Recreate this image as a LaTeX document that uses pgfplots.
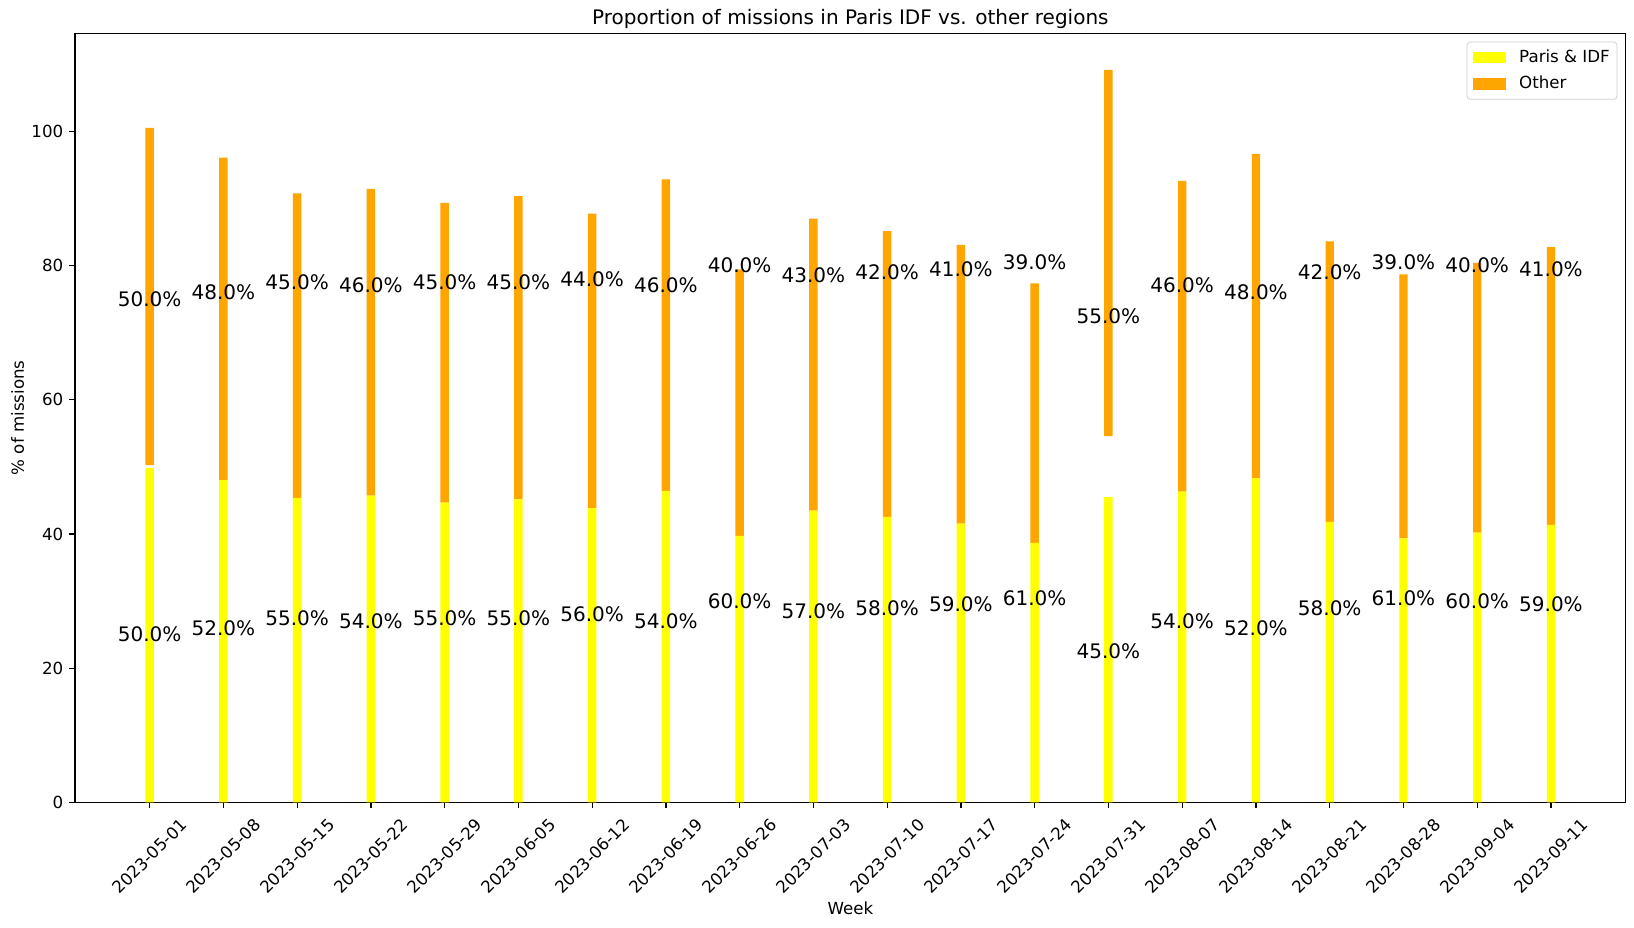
\documentclass[border=0pt]{standalone}
\usepackage{fontspec}
\setmainfont{DejaVu Sans}
\usepackage{pgfplots}
\usepackage{pgfplotstable}
\pgfplotsset{compat=1.18}
\definecolor{pyellow}{HTML}{FFFF00}
\definecolor{porange}{HTML}{FFA500}
\definecolor{legendgray}{HTML}{CCCCCC}

\pgfplotstableread{
x p gap b lo loy up upy
0 49.86 0.38 50.24 50 25.0 50 75.0
1 48.03 0 48.03 52 26.0 48 76.0
2 45.37 0 45.37 55 27.5 45 77.5
3 45.70 0 45.70 54 27.0 46 77.0
4 44.66 0 44.66 55 27.5 45 77.5
5 45.17 0 45.17 55 27.5 45 77.5
6 43.86 0 43.86 56 28.0 44 78.0
7 46.42 0 46.42 54 27.0 46 77.0
8 39.70 0 39.70 60 30.0 40 80.0
9 43.49 0 43.49 57 28.5 43 78.5
10 42.55 0 42.55 58 29.0 42 79.0
11 41.53 0 41.53 59 29.5 41 79.5
12 38.66 0 38.66 61 30.5 39 80.5
13 45.49 9.07 54.56 45 22.5 55 72.5
14 46.30 0 46.30 54 27.0 46 77.0
15 48.32 0 48.32 52 26.0 48 76.0
16 41.80 0 41.80 58 29.0 42 79.0
17 39.34 0 39.34 61 30.5 39 80.5
18 40.20 0 40.20 60 30.0 40 80.0
19 41.36 0 41.36 59 29.5 41 79.5
}\datatable

\begin{document}
\begin{tikzpicture}
\pgfplotsset{common/.style={width=930.4pt, height=461.5pt, scale only axis,
  xmin=-1.013, xmax=20.013, ymin=0, ymax=114.58}}
\begin{axis}[common, ybar stacked, bar width=0.1143,
  axis line style={line width=0.8pt},
  tick align=outside, major tick length=3.5pt,
  tick style={line width=0.8pt, black},
  xtick pos=bottom, ytick pos=left,
  xtick={0,...,19},
  xticklabels={2023-05-01,2023-05-08,2023-05-15,2023-05-22,2023-05-29,2023-06-05,2023-06-12,2023-06-19,2023-06-26,2023-07-03,2023-07-10,2023-07-17,2023-07-24,2023-07-31,2023-08-07,2023-08-14,2023-08-21,2023-08-28,2023-09-04,2023-09-11},
  ytick={0,20,40,60,80,100},
  xticklabel style={font=\fontsize{10}{12}\selectfont, yshift=-28.6pt, rotate=45, anchor=center},
  yticklabel style={font=\fontsize{10}{12}\selectfont},
  /pgf/number format/assume math mode=true,
  every axis x label/.style={at={(axis description cs:0.5,0)}, yshift=-63.2pt, anchor=center, font=\fontsize{10}{12}\selectfont},
  every axis y label/.style={at={(axis description cs:0,0.5)}, xshift=-34.4pt, rotate=90, anchor=center, font=\fontsize{10}{12}\selectfont},
  every axis title/.style={at={(axis description cs:0.5,1)}, yshift=8.4pt, anchor=center, font=\fontsize{12}{14}\selectfont},
  xlabel={Week}, ylabel={\% of missions},
  title={Proportion of missions in Paris IDF vs. other regions},
  legend style={at={(1,1)}, anchor=north east, xshift=-5pt, yshift=-5pt,
    draw=legendgray, rounded corners=2pt, fill=white,
    font=\fontsize{10}{12}\selectfont, inner xsep=3.5pt, inner ysep=4pt, row sep=5pt,
    nodes={inner sep=0.8pt},
    /tikz/every odd column/.append style={column sep=7pt}},
  legend cell align=left,
  legend image code/.code={\fill[#1, sharp corners] (0pt,-3.5pt) rectangle (20pt,3.5pt);},
]
\addplot[fill=pyellow, draw=none] table[x=x,y=p]{\datatable};
\addlegendentry{Paris \& IDF}
\addplot[fill=none, draw=none, forget plot] table[x=x,y=gap]{\datatable};
\addplot[fill=porange, draw=none] table[x=x,y=b]{\datatable};
\addlegendentry{Other}
\end{axis}
\begin{axis}[common, hide axis, clip=false,
  nodes near coords={\pgfmathprintnumber[fixed,fixed zerofill,precision=1]{\pgfplotspointmeta}\%},
  nodes near coords style={anchor=center, font=\fontsize{12}{14}\selectfont, /pgf/number format/assume math mode=true},
]
\addplot[only marks, mark=none, point meta=explicit] table[x=x,y=loy,meta=lo]{\datatable};
\addplot[only marks, mark=none, point meta=explicit] table[x=x,y=upy,meta=up]{\datatable};
\end{axis}
\pgfresetboundingbox
\path[use as bounding box] (-45pt,-74.8pt) rectangle (935.4pt,481.5pt);
\end{tikzpicture}
\end{document}
